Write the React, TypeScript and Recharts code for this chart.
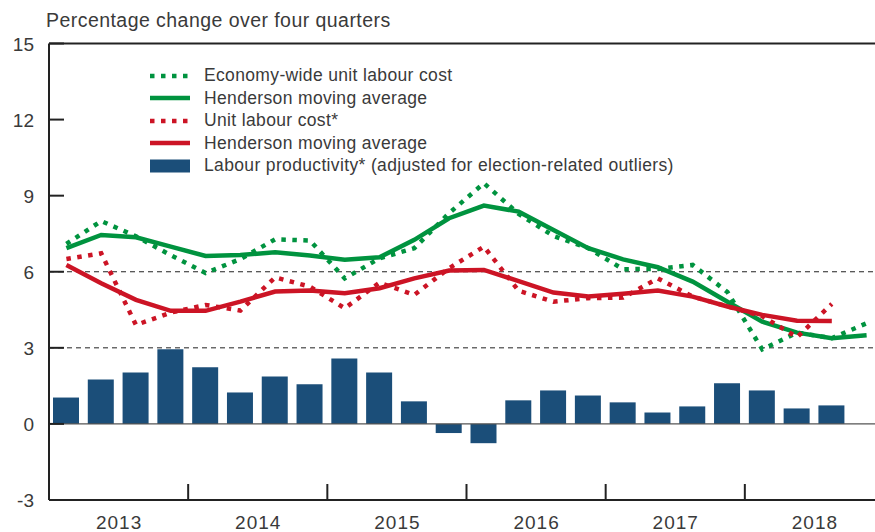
import React from 'react';
import { ComposedChart, Bar, Line, XAxis, YAxis, ReferenceLine } from 'recharts';

const quarters = [
  '2013Q1', '2013Q2', '2013Q3', '2013Q4',
  '2014Q1', '2014Q2', '2014Q3', '2014Q4',
  '2015Q1', '2015Q2', '2015Q3', '2015Q4',
  '2016Q1', '2016Q2', '2016Q3', '2016Q4',
  '2017Q1', '2017Q2', '2017Q3', '2017Q4',
  '2018Q1', '2018Q2', '2018Q3', '2018Q4',
];

const labourProductivity = [
  1.04, 1.75, 2.03, 2.94, 2.23, 1.24, 1.87, 1.56, 2.58, 2.03, 0.89, -0.36,
  -0.76, 0.93, 1.32, 1.12, 0.85, 0.45, 0.69, 1.6, 1.32, 0.61, 0.73, null,
];

const economyUlc = [
  7.1, 8.0, 7.4, 6.65, 5.95, 6.5, 7.28, 7.23, 5.74, 6.53, 6.93, 8.31,
  9.49, 8.28, 7.41, 6.93, 6.1, 6.11, 6.27, 5.2, 2.94, 3.6, 3.38, 3.97,
];

const economyHenderson = [
  6.93, 7.45, 7.36, 6.99, 6.62, 6.66, 6.77, 6.64, 6.47, 6.57, 7.26, 8.11,
  8.61, 8.37, 7.65, 6.93, 6.49, 6.18, 5.61, 4.82, 4.03, 3.6, 3.38, 3.5,
];

const unitLabourCost = [
  6.5, 6.73, 3.9, 4.39, 4.69, 4.47, 5.78, 5.41, 4.56, 5.57, 5.09, 6.14,
  6.99, 5.25, 4.82, 4.96, 4.98, 5.74, 5.02, 4.63, 4.25, 3.42, 4.73, null,
];

const ulcHenderson = [
  6.27, 5.55, 4.89, 4.46, 4.46, 4.82, 5.22, 5.26, 5.15, 5.35, 5.74, 6.05,
  6.07, 5.63, 5.18, 5.02, 5.13, 5.26, 5.02, 4.63, 4.3, 4.07, 4.06, null,
];

const yTicks = [-3, 0, 3, 6, 9, 12, 15];
const yearLabels = ['2013', '2014', '2015', '2016', '2017', '2018'];

const data = quarters.map((q, i) => ({
  q,
  prod: labourProductivity[i],
  eco: economyUlc[i],
  ecoH: economyHenderson[i],
  ulc: unitLabourCost[i],
  ulcH: ulcHenderson[i],
}));

const GREEN = '#00933f';
const RED = '#cc1425';
const BLUE = '#1b4e79';
const TEXT = '#3a3a3a';
const AXIS = '#222222';
const FONT = '"Liberation Sans", Arial, Helvetica, sans-serif';

const CHART_W = 900;
const CHART_H = 532;
const PLOT_LEFT = 49;
const PLOT_RIGHT = 884;
const PLOT_BOTTOM = 500;
const BAND = (PLOT_RIGHT - PLOT_LEFT) / quarters.length;
const DOT = '4.5 6.5';

const YTick = (props: any) => {
  const { y, payload } = props;
  return (
    <g>
      <line x1={PLOT_LEFT} x2={PLOT_LEFT + 15} y1={y} y2={y} stroke={AXIS} strokeWidth={2} />
      <text x={34} y={y + 7} textAnchor="end" fill={TEXT} fontSize={19} fontFamily={FONT}>
        {payload.value}
      </text>
    </g>
  );
};

const XTick = (props: any) => {
  const { x, payload } = props;
  const index = payload.index ?? quarters.indexOf(payload.value);
  const boundary = x - BAND / 2;
  if (index % 4 === 0 && index > 0) {
    return (
      <line x1={boundary} x2={boundary} y1={PLOT_BOTTOM} y2={PLOT_BOTTOM - 16} stroke={AXIS} strokeWidth={2} />
    );
  }
  if (index % 4 === 2) {
    return (
      <text
        x={boundary + 0.5}
        y={PLOT_BOTTOM + 29}
        textAnchor="middle"
        fill={TEXT}
        fontSize={19}
        letterSpacing={1}
        fontFamily={FONT}
      >
        {yearLabels[Math.floor(index / 4)]}
      </text>
    );
  }
  return <g />;
};

const legendItems = [
  { label: 'Economy-wide unit labour cost', color: GREEN, kind: 'dot' },
  { label: 'Henderson moving average', color: GREEN, kind: 'line' },
  { label: 'Unit labour cost*', color: RED, kind: 'dot' },
  { label: 'Henderson moving average', color: RED, kind: 'line' },
  { label: 'Labour productivity* (adjusted for election-related outliers)', color: BLUE, kind: 'bar' },
];

const ChartLegend = () => (
  <div
    style={{
      position: 'absolute',
      left: 150,
      top: 64,
      width: 620,
      height: 115,
      fontFamily: FONT,
      fontSize: 17.5,
      letterSpacing: 0.35,
      color: TEXT,
      zIndex: 2,
    }}
  >
    {legendItems.map((it, i) => (
      <div
        key={i}
        style={{
          position: 'absolute',
          left: 0,
          top: i * 22.5,
          height: 23,
          display: 'flex',
          alignItems: 'center',
          whiteSpace: 'nowrap',
        }}
      >
        <svg width={40} height={14} style={{ marginRight: 14, flex: 'none' }}>
          {it.kind === 'bar' ? (
            <rect x={0} y={0.5} width={40} height={13} fill={it.color} />
          ) : (
            <line
              x1={0}
              x2={40}
              y1={7}
              y2={7}
              stroke={it.color}
              strokeWidth={4.5}
              strokeDasharray={it.kind === 'dot' ? DOT : undefined}
            />
          )}
        </svg>
        <span>{it.label}</span>
      </div>
    ))}
  </div>
);

export default function App() {
  return (
    <div
      style={{
        position: 'absolute',
        left: 0,
        top: 0,
        width: 875,
        height: 532,
        overflow: 'hidden',
        background: '#ffffff',
      }}
    >
      <div
        style={{
          position: 'absolute',
          left: 46,
          top: 11,
          fontFamily: FONT,
          fontSize: 19.5,
          letterSpacing: 0.45,
          lineHeight: '19px',
          color: TEXT,
          whiteSpace: 'nowrap',
          zIndex: 2,
        }}
      >
        Percentage change over four quarters
      </div>
      <ComposedChart
        width={CHART_W}
        height={CHART_H}
        data={data}
        margin={{ top: 43.5, right: CHART_W - PLOT_RIGHT, bottom: 0, left: 0 }}
        barSize={26}
      >
        <XAxis
          dataKey="q"
          interval={0}
          tickLine={false}
          tickSize={0}
          tickMargin={0}
          height={32}
          axisLine={{ stroke: AXIS, strokeWidth: 2 }}
          tick={<XTick />}
        />
        <YAxis
          type="number"
          domain={[-3, 15]}
          ticks={yTicks}
          width={PLOT_LEFT}
          tickLine={false}
          tickSize={0}
          tickMargin={0}
          axisLine={{ stroke: AXIS, strokeWidth: 2 }}
          tick={<YTick />}
        />
        <ReferenceLine y={6} stroke={AXIS} strokeWidth={1} strokeDasharray="5 4" />
        <ReferenceLine y={3} stroke={AXIS} strokeWidth={1} strokeDasharray="5 4" />
        <ReferenceLine y={0} stroke="#555555" strokeWidth={1.2} />
        <ReferenceLine y={15} stroke={AXIS} strokeWidth={2} />
        <Bar dataKey="prod" fill={BLUE} isAnimationActive={false} />
        <Line
          dataKey="eco"
          type="linear"
          stroke={GREEN}
          strokeWidth={4.5}
          strokeDasharray={DOT}
          dot={false}
          activeDot={false}
          isAnimationActive={false}
        />
        <Line
          dataKey="ecoH"
          type="linear"
          stroke={GREEN}
          strokeWidth={4.5}
          dot={false}
          activeDot={false}
          isAnimationActive={false}
        />
        <Line
          dataKey="ulc"
          type="linear"
          stroke={RED}
          strokeWidth={4.5}
          strokeDasharray={DOT}
          dot={false}
          activeDot={false}
          isAnimationActive={false}
        />
        <Line
          dataKey="ulcH"
          type="linear"
          stroke={RED}
          strokeWidth={4.5}
          dot={false}
          activeDot={false}
          isAnimationActive={false}
        />
      </ComposedChart>
      <ChartLegend />
    </div>
  );
}
